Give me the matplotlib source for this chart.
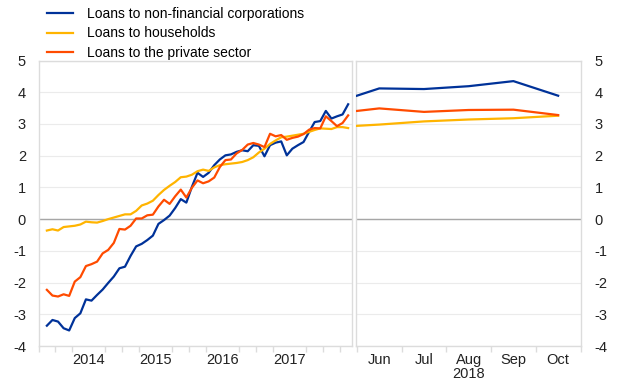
import numpy as np
import matplotlib
matplotlib.use('Agg')
import matplotlib.pyplot as plt

plt.rcParams['font.family'] = ['Liberation Sans', 'DejaVu Sans']
plt.rcParams['axes.unicode_minus'] = False

# monthly, Nov 2013 - May 2018
months = [(2013 + (10 + i) // 12, (10 + i) % 12 + 1) for i in range(55)]
nfc = [-3.36, -3.18, -3.23, -3.44, -3.51, -3.12, -2.97, -2.53, -2.57, -2.39,
       -2.22, -2.01, -1.81, -1.55, -1.50, -1.16, -0.86, -0.78, -0.66, -0.52,
       -0.15, -0.03, 0.11, 0.35, 0.63, 0.52, 1.02, 1.46, 1.33, 1.46,
       1.70, 1.88, 2.01, 2.04, 2.12, 2.17, 2.14, 2.33, 2.31, 1.98,
       2.33, 2.41, 2.45, 2.01, 2.22, 2.33, 2.43, 2.75, 3.06, 3.09,
       3.41, 3.17, 3.24, 3.30, 3.62]
households = [-0.36, -0.32, -0.36, -0.25, -0.23, -0.21, -0.17, -0.08, -0.10, -0.11,
              -0.06, 0.00, 0.05, 0.10, 0.15, 0.15, 0.26, 0.43, 0.49, 0.58,
              0.76, 0.92, 1.05, 1.17, 1.32, 1.34, 1.40, 1.51, 1.56, 1.52,
              1.63, 1.70, 1.73, 1.75, 1.77, 1.80, 1.86, 1.95, 2.10, 2.22,
              2.37, 2.48, 2.58, 2.60, 2.63, 2.66, 2.69, 2.75, 2.81, 2.86,
              2.85, 2.84, 2.90, 2.90, 2.87]
private = [-2.23, -2.41, -2.44, -2.37, -2.42, -1.97, -1.83, -1.48, -1.42, -1.34,
           -1.08, -0.97, -0.75, -0.31, -0.33, -0.21, 0.02, 0.02, 0.12, 0.14,
           0.40, 0.61, 0.48, 0.72, 0.93, 0.68, 0.99, 1.22, 1.13, 1.19,
           1.31, 1.64, 1.86, 1.88, 2.07, 2.18, 2.35, 2.40, 2.35, 2.27,
           2.69, 2.61, 2.65, 2.50, 2.56, 2.60, 2.68, 2.82, 2.87, 2.86,
           3.24, 3.09, 2.93, 3.03, 3.27]
years = [2014, 2015, 2016, 2017]

# 2018, end-May to Oct
r_months = [5.5, 6, 7, 8, 9, 10]
r_labels = ['Jun', 'Jul', 'Aug', 'Sep', 'Oct']
r_nfc = [3.89, 4.12, 4.10, 4.19, 4.35, 3.89]
r_households = [2.94, 2.98, 3.08, 3.14, 3.18, 3.26]
r_private = [3.41, 3.49, 3.38, 3.44, 3.45, 3.28]

names = ['Loans to non-financial corporations', 'Loans to households',
         'Loans to the private sector']
colors = ['#003299', '#FFB400', '#FF4B00']

W, H = 620, 387
fig = plt.figure(figsize=(W / 100, H / 100), dpi=100)
ax1 = fig.add_axes([38.5 / W, 1 - 346 / H, (351.5 - 38.5) / W, (346 - 60.5) / H])
ax2 = fig.add_axes([356 / W, 1 - 346 / H, (580.5 - 356) / W, (346 - 60.5) / H])

t = np.array([y + (m - 0.5) / 12 for y, m in months])
grid_c = '#ebebeb'
spine_c = '#dcdcdc'

lines = []
for ax, x, series in [(ax1, t, [nfc, households, private]),
                      (ax2, r_months, [r_nfc, r_households, r_private])]:
    ax.set_ylim(-4, 5)
    ax.set_yticks(range(-4, 6))
    ax.grid(axis='y', color=grid_c, linewidth=0.8)
    ax.set_axisbelow(True)
    ax.axhline(0, color='#a6a6a6', linewidth=1.0, zorder=1)
    for s in ax.spines.values():
        s.set_color(spine_c)
        s.set_linewidth(1.0)
    ax.tick_params(axis='y', length=0, labelsize=10.5, colors='#222222')
    ax.tick_params(axis='x', which='major', length=0, labelsize=10.5,
                   colors='#222222', pad=5)
    ax.tick_params(axis='x', which='minor', length=4, color=spine_c, width=1)
    lines = []
    for vals, c in zip(series, colors):
        ln, = ax.plot(x, vals, color=c, linewidth=1.6, zorder=3)
        lines.append(ln)

ax1.set_xlim(2013.828, 2018.425)
ax1.set_xticks([y + 0.5 for y in years])
ax1.set_xticklabels([str(y) for y in years])
ax1.set_xticks(np.arange(2013.75, 2018.5, 0.25), minor=True)
ax1.tick_params(axis='y', pad=9)

ax2.set_xlim(5.48, 10.5)
ax2.set_xticks([6, 7, 8, 9, 10])
ax2.set_xticklabels(r_labels)
ax2.set_xticks([5.5, 6, 6.5, 7, 7.5, 8, 8.5, 9, 9.5, 10, 10.5], minor=True)
ax2.yaxis.tick_right()
ax2.tick_params(axis='y', pad=10)
ax2.text(8, -4.88, '2018', ha='center', va='center', fontsize=10.5,
         color='#222222')

leg = fig.legend(lines, names, loc='upper left', bbox_to_anchor=(41 / W, 1 - 1 / H),
                 frameon=False, fontsize=10, handlelength=1.9, handletextpad=1.0,
                 labelspacing=0.42, borderaxespad=0)

fig.savefig('out.png', dpi=100)
